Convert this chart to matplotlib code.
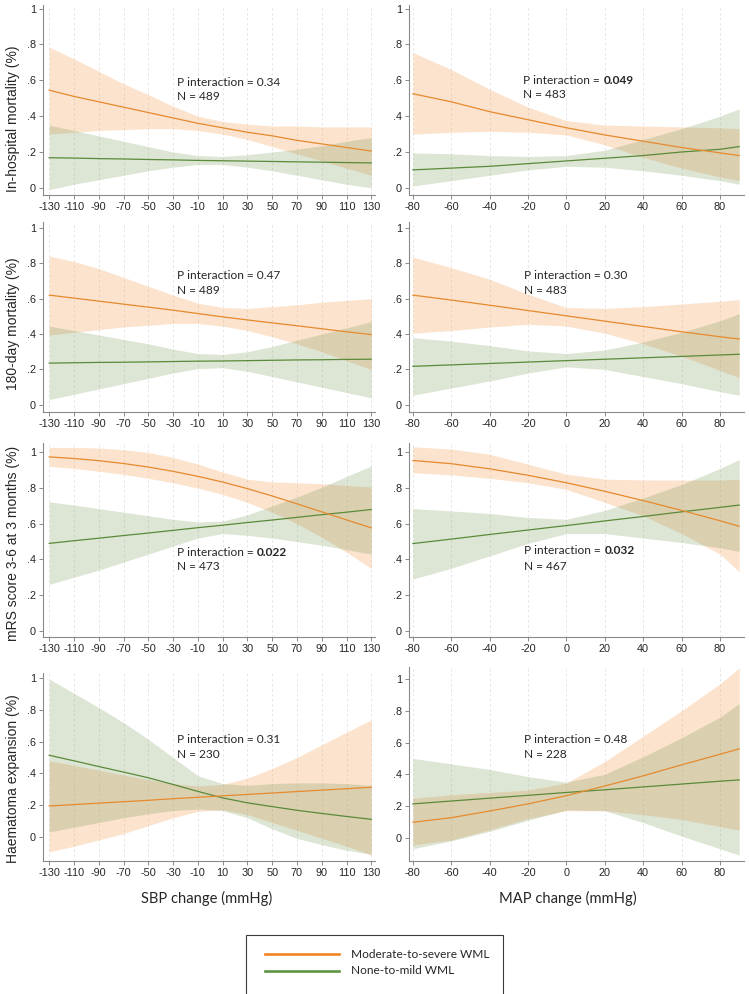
import matplotlib
matplotlib.use("Agg")
import matplotlib.pyplot as plt
from matplotlib.lines import Line2D
from matplotlib.patches import Rectangle

# ---------------- data ----------------
sbp_x = [-130, -110, -90, -70, -50, -30, -10, 10, 30, 50, 70, 90, 110, 130]
map_x = [-80, -60, -40, -20, 0, 20, 40, 60, 80, 90]
sbp_ticks = [-130, -110, -90, -70, -50, -30, -10, 10, 30, 50, 70, 90, 110, 130]
map_ticks = [-80, -60, -40, -20, 0, 20, 40, 60, 80]
y_ticks = [0, 0.2, 0.4, 0.6, 0.8, 1]
y_ticklabels = ["0", ".2", ".4", ".6", ".8", "1"]

series = ["Moderate-to-severe WML", "None-to-mild WML"]
outcomes = ["In-hospital mortality (%)", "180-day mortality (%)",
            "mRS score 3-6 at 3 months (%)", "Haematoma expansion (%)"]
xlabels = ["SBP change (mmHg)", "MAP change (mmHg)"]

p_values = ["0.34", "0.049", "0.47", "0.30", "0.022", "0.032", "0.31", "0.48"]
p_bold = [False, True, False, False, True, True, False, False]
n_values = [489, 483, 489, 483, 473, 467, 230, 228]

# In-hospital mortality, SBP
hosp_sbp_mod = [0.545, 0.51, 0.48, 0.45, 0.42, 0.39, 0.36, 0.335, 0.31, 0.29, 0.265, 0.245, 0.225, 0.205]
hosp_sbp_mod_lo = [0.30, 0.31, 0.32, 0.325, 0.33, 0.33, 0.32, 0.30, 0.27, 0.23, 0.19, 0.15, 0.11, 0.07]
hosp_sbp_mod_hi = [0.785, 0.72, 0.65, 0.58, 0.52, 0.455, 0.40, 0.37, 0.355, 0.345, 0.345, 0.34, 0.34, 0.34]
hosp_sbp_non = [0.168, 0.166, 0.163, 0.161, 0.158, 0.156, 0.153, 0.151, 0.149, 0.147, 0.145, 0.143, 0.141, 0.139]
hosp_sbp_non_lo = [-0.01, 0.02, 0.045, 0.07, 0.095, 0.115, 0.13, 0.13, 0.115, 0.095, 0.07, 0.045, 0.02, 0.0]
hosp_sbp_non_hi = [0.35, 0.32, 0.29, 0.26, 0.23, 0.20, 0.18, 0.175, 0.185, 0.20, 0.215, 0.235, 0.26, 0.28]

# In-hospital mortality, MAP
hosp_map_mod = [0.525, 0.48, 0.425, 0.38, 0.335, 0.295, 0.26, 0.225, 0.195, 0.18]
hosp_map_mod_lo = [0.30, 0.31, 0.315, 0.31, 0.295, 0.24, 0.17, 0.11, 0.06, 0.04]
hosp_map_mod_hi = [0.755, 0.66, 0.55, 0.45, 0.375, 0.35, 0.345, 0.34, 0.335, 0.33]
hosp_map_non = [0.10, 0.11, 0.12, 0.135, 0.15, 0.165, 0.18, 0.20, 0.215, 0.23]
hosp_map_non_lo = [0.01, 0.04, 0.07, 0.10, 0.12, 0.115, 0.095, 0.07, 0.04, 0.02]
hosp_map_non_hi = [0.195, 0.19, 0.18, 0.175, 0.18, 0.21, 0.27, 0.33, 0.40, 0.44]

# 180-day mortality, SBP
d180_sbp_mod = [0.62, 0.603, 0.586, 0.569, 0.552, 0.535, 0.516, 0.497, 0.48, 0.463, 0.447, 0.43, 0.413, 0.397]
d180_sbp_mod_lo = [0.395, 0.41, 0.425, 0.44, 0.45, 0.46, 0.46, 0.445, 0.42, 0.385, 0.345, 0.30, 0.25, 0.20]
d180_sbp_mod_hi = [0.84, 0.81, 0.77, 0.72, 0.67, 0.62, 0.575, 0.55, 0.545, 0.555, 0.565, 0.58, 0.59, 0.60]
d180_sbp_non = [0.236, 0.238, 0.240, 0.241, 0.243, 0.245, 0.247, 0.248, 0.25, 0.252, 0.254, 0.255, 0.257, 0.258]
d180_sbp_non_lo = [0.03, 0.06, 0.09, 0.12, 0.15, 0.18, 0.205, 0.21, 0.19, 0.16, 0.13, 0.10, 0.07, 0.04]
d180_sbp_non_hi = [0.445, 0.42, 0.395, 0.37, 0.345, 0.315, 0.29, 0.285, 0.30, 0.33, 0.365, 0.40, 0.435, 0.47]

# 180-day mortality, MAP
d180_map_mod = [0.62, 0.592, 0.563, 0.533, 0.503, 0.473, 0.443, 0.413, 0.385, 0.372]
d180_map_mod_lo = [0.405, 0.42, 0.44, 0.455, 0.445, 0.405, 0.345, 0.275, 0.195, 0.155]
d180_map_mod_hi = [0.835, 0.775, 0.71, 0.625, 0.55, 0.545, 0.555, 0.57, 0.585, 0.595]
d180_map_non = [0.218, 0.226, 0.234, 0.242, 0.25, 0.258, 0.266, 0.274, 0.282, 0.286]
d180_map_non_lo = [0.055, 0.095, 0.135, 0.18, 0.215, 0.20, 0.16, 0.12, 0.075, 0.055]
d180_map_non_hi = [0.38, 0.36, 0.335, 0.305, 0.29, 0.31, 0.355, 0.41, 0.475, 0.515]

# mRS 3-6 at 3 months, SBP
mrs_sbp_mod = [0.975, 0.966, 0.954, 0.938, 0.918, 0.894, 0.866, 0.834, 0.797, 0.756, 0.712, 0.667, 0.622, 0.577]
mrs_sbp_mod_lo = [0.923, 0.91, 0.895, 0.877, 0.855, 0.83, 0.80, 0.765, 0.72, 0.665, 0.60, 0.525, 0.44, 0.35]
mrs_sbp_mod_hi = [1.028, 1.028, 1.025, 1.015, 1.0, 0.972, 0.935, 0.89, 0.85, 0.835, 0.83, 0.825, 0.815, 0.807]
mrs_sbp_non = [0.49, 0.505, 0.519, 0.534, 0.548, 0.563, 0.578, 0.592, 0.607, 0.621, 0.636, 0.651, 0.665, 0.68]
mrs_sbp_non_lo = [0.26, 0.30, 0.34, 0.385, 0.43, 0.475, 0.52, 0.545, 0.535, 0.52, 0.50, 0.48, 0.455, 0.43]
mrs_sbp_non_hi = [0.723, 0.705, 0.685, 0.665, 0.645, 0.625, 0.61, 0.615, 0.65, 0.70, 0.75, 0.805, 0.865, 0.925]

# mRS 3-6 at 3 months, MAP
mrs_map_mod = [0.955, 0.937, 0.908, 0.872, 0.830, 0.782, 0.730, 0.675, 0.617, 0.586]
mrs_map_mod_lo = [0.887, 0.874, 0.855, 0.83, 0.793, 0.72, 0.645, 0.545, 0.43, 0.33]
mrs_map_mod_hi = [1.032, 1.019, 0.99, 0.934, 0.878, 0.85, 0.846, 0.845, 0.845, 0.85]
mrs_map_non = [0.489, 0.514, 0.54, 0.565, 0.59, 0.616, 0.641, 0.667, 0.692, 0.705]
mrs_map_non_lo = [0.29, 0.35, 0.42, 0.49, 0.545, 0.545, 0.52, 0.495, 0.465, 0.445]
mrs_map_non_hi = [0.685, 0.672, 0.658, 0.635, 0.625, 0.675, 0.745, 0.82, 0.91, 0.96]

# Haematoma expansion, SBP
hem_sbp_mod = [0.194, 0.203, 0.212, 0.221, 0.230, 0.240, 0.249, 0.258, 0.267, 0.276, 0.285, 0.294, 0.303, 0.312]
hem_sbp_mod_lo = [-0.095, -0.06, -0.02, 0.02, 0.07, 0.12, 0.16, 0.17, 0.14, 0.09, 0.04, -0.01, -0.06, -0.115]
hem_sbp_mod_hi = [0.48, 0.45, 0.42, 0.39, 0.36, 0.335, 0.32, 0.33, 0.37, 0.43, 0.50, 0.58, 0.66, 0.737]
hem_sbp_non = [0.514, 0.479, 0.443, 0.408, 0.372, 0.330, 0.286, 0.245, 0.214, 0.190, 0.167, 0.147, 0.128, 0.11]
hem_sbp_non_lo = [0.03, 0.06, 0.09, 0.12, 0.145, 0.165, 0.175, 0.165, 0.12, 0.05, -0.01, -0.05, -0.085, -0.11]
hem_sbp_non_hi = [0.995, 0.905, 0.815, 0.72, 0.615, 0.50, 0.385, 0.335, 0.325, 0.335, 0.34, 0.34, 0.335, 0.325]

# Haematoma expansion, MAP
hem_map_mod = [0.097, 0.126, 0.168, 0.213, 0.265, 0.326, 0.39, 0.459, 0.526, 0.56]
hem_map_mod_lo = [-0.046, -0.015, 0.05, 0.12, 0.17, 0.17, 0.145, 0.115, 0.07, 0.048]
hem_map_mod_hi = [0.248, 0.27, 0.285, 0.30, 0.345, 0.48, 0.64, 0.80, 0.97, 1.07]
hem_map_non = [0.213, 0.231, 0.249, 0.267, 0.285, 0.302, 0.32, 0.338, 0.356, 0.364]
hem_map_non_lo = [-0.07, -0.02, 0.04, 0.11, 0.175, 0.17, 0.095, 0.01, -0.07, -0.11]
hem_map_non_hi = [0.50, 0.465, 0.43, 0.385, 0.35, 0.40, 0.51, 0.63, 0.76, 0.845]

panel_data = [
    (sbp_x, hosp_sbp_mod, hosp_sbp_mod_lo, hosp_sbp_mod_hi, hosp_sbp_non, hosp_sbp_non_lo, hosp_sbp_non_hi),
    (map_x, hosp_map_mod, hosp_map_mod_lo, hosp_map_mod_hi, hosp_map_non, hosp_map_non_lo, hosp_map_non_hi),
    (sbp_x, d180_sbp_mod, d180_sbp_mod_lo, d180_sbp_mod_hi, d180_sbp_non, d180_sbp_non_lo, d180_sbp_non_hi),
    (map_x, d180_map_mod, d180_map_mod_lo, d180_map_mod_hi, d180_map_non, d180_map_non_lo, d180_map_non_hi),
    (sbp_x, mrs_sbp_mod, mrs_sbp_mod_lo, mrs_sbp_mod_hi, mrs_sbp_non, mrs_sbp_non_lo, mrs_sbp_non_hi),
    (map_x, mrs_map_mod, mrs_map_mod_lo, mrs_map_mod_hi, mrs_map_non, mrs_map_non_lo, mrs_map_non_hi),
    (sbp_x, hem_sbp_mod, hem_sbp_mod_lo, hem_sbp_mod_hi, hem_sbp_non, hem_sbp_non_lo, hem_sbp_non_hi),
    (map_x, hem_map_mod, hem_map_mod_lo, hem_map_mod_hi, hem_map_non, hem_map_non_lo, hem_map_non_hi),
]

# ---------------- layout / style ----------------
W, H = 749, 994
ORANGE = "#E68A2E"
ORANGE_FILL = "#F5A35C"
GREEN = "#5A8A3A"
GREEN_FILL = "#7A9A5A"
AX_COLOR = "#8a8a8a"
TXT = "#262626"
TICK_FONT = "Liberation Sans"
NOTE_FONT = "Lato"

col_x = [(43, 375), (409, 744)]
col_xlim = [(-135, 133), (-82, 92.5)]
# per panel: (top px, bottom px, ylim)
panel_rows = [
    (5, 195, (-0.04, 1.02)), (5, 195, (-0.04, 1.02)),
    (222.5, 412, (-0.04, 1.03)), (222.5, 412, (-0.04, 1.03)),
    (443, 637, (-0.035, 1.053)), (443, 637, (-0.035, 1.053)),
    (673, 861, (-0.153, 1.033)), (667, 861, (-0.147, 1.076)),
]
ylabel_center = [119, 324, 543, 779]
note_pos = [(-27, 0.585, 0.51), (-22.5, 0.60, 0.52),
            (-27, 0.729, 0.644), (-22, 0.73, 0.645),
            (-27, 0.441, 0.359), (-22, 0.449, 0.361),
            (-27, 0.615, 0.52), (-22, 0.621, 0.527)]

fig = plt.figure(figsize=(W / 100, H / 100), dpi=100)


def rect(l, t, r, b):
    return [l / W, 1 - b / H, (r - l) / W, (b - t) / H]


for i, (x, mod, mod_lo, mod_hi, non, non_lo, non_hi) in enumerate(panel_data):
    row, col = divmod(i, 2)
    top, bot, ylim = panel_rows[i]
    l, r = col_x[col]
    ax = fig.add_axes(rect(l, top, r, bot))
    ax.fill_between(x, mod_lo, mod_hi, color=ORANGE_FILL, alpha=0.30, lw=0, zorder=2)
    ax.fill_between(x, non_lo, non_hi, color=GREEN_FILL, alpha=0.25, lw=0, zorder=2)
    ax.plot(x, non, color=GREEN, lw=0.9, zorder=3)
    ax.plot(x, mod, color=ORANGE, lw=0.9, zorder=4)

    ax.set_xlim(*col_xlim[col])
    ax.set_ylim(*ylim)
    ticks = sbp_ticks if col == 0 else map_ticks
    ax.set_xticks(ticks)
    ax.set_xticklabels([str(t) for t in ticks])
    ax.set_yticks(y_ticks)
    ax.set_yticklabels(y_ticklabels)
    ax.xaxis.grid(True, linestyle=(0, (3, 3)), color="#e2e2e2", lw=0.6, zorder=0)
    ax.set_axisbelow(True)
    for s in ("top", "right"):
        ax.spines[s].set_visible(False)
    for s in ("left", "bottom"):
        ax.spines[s].set_color(AX_COLOR)
        ax.spines[s].set_linewidth(0.8)
    ax.tick_params(axis="both", length=3, width=0.7, color=AX_COLOR, colors=TXT,
                   labelsize=7.8, pad=2)
    for lab in ax.get_xticklabels() + ax.get_yticklabels():
        lab.set_fontfamily(TICK_FONT)
        lab.set_color(TXT)

    # annotation
    nx, py, ny = note_pos[i]
    if p_bold[i]:
        t = ax.text(nx, py, "P interaction =", fontsize=8.6, family=NOTE_FONT,
                    color=TXT, va="center", ha="left", zorder=6)
        ax.annotate(p_values[i], xy=(1, 0), xycoords=t, xytext=(2.6, 0),
                    textcoords="offset points", fontsize=8.6, family=NOTE_FONT,
                    fontweight="bold", color=TXT, va="bottom", ha="left", zorder=6)
    else:
        ax.text(nx, py, "P interaction = " + p_values[i], fontsize=8.6,
                family=NOTE_FONT, color=TXT, va="center", ha="left", zorder=6)
    ax.text(nx, ny, "N = %d" % n_values[i], fontsize=8.6, family=NOTE_FONT,
            color=TXT, va="center", ha="left", zorder=6)

    if col == 0:
        fig.text(13 / W, 1 - ylabel_center[row] / H, outcomes[row], rotation=90,
                 ha="center", va="center", fontsize=10, family=TICK_FONT, color=TXT)

# x-axis titles
fig.text(206.5 / W, 1 - 898 / H, xlabels[0], ha="center", va="center",
         fontsize=10.6, family=NOTE_FONT, color=TXT)
fig.text(567.5 / W, 1 - 898 / H, xlabels[1], ha="center", va="center",
         fontsize=10.6, family=NOTE_FONT, color=TXT)

# legend box (bottom edge runs off the figure as in the reference)
fig.add_artist(Rectangle((246 / W, 1 - 1010 / H), (503 - 246) / W, (1010 - 935) / H,
                         transform=fig.transFigure, fill=False, ec="#3a3a3a", lw=0.8))
leg_colors = ["#F0841E", "#5F9444"]
for k, name in enumerate(series):
    yy = 1 - (954.3 + k * 16.4) / H
    fig.add_artist(Line2D([265 / W, 339 / W], [yy, yy], transform=fig.transFigure,
                          color=leg_colors[k], lw=1.9))
    fig.text(351 / W, yy, name, ha="left", va="center", fontsize=8.6,
             family=NOTE_FONT, color=TXT)

fig.savefig("out.png", dpi=100)
